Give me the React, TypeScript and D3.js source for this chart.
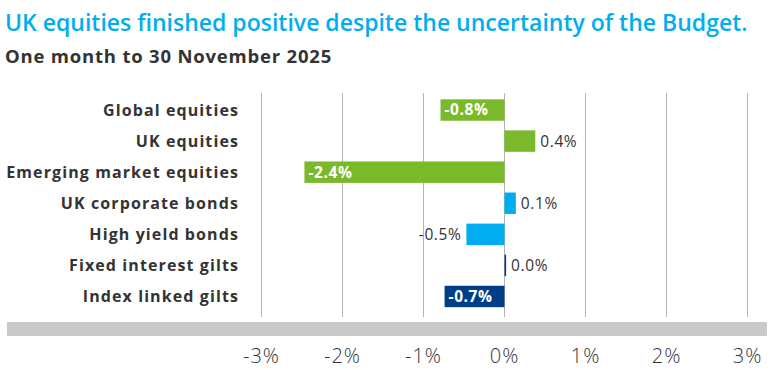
import React from "react";
import * as d3 from "d3";

const WIDTH = 774;
const HEIGHT = 370;

const categories = [
  "Global equities",
  "UK equities",
  "Emerging market equities",
  "UK corporate bonds",
  "High yield bonds",
  "Fixed interest gilts",
  "Index linked gilts",
];
const values = [-0.79, 0.38, -2.47, 0.14, -0.47, 0.02, -0.74];
const valueLabels = ["-0.8%", "0.4%", "-2.4%", "0.1%", "-0.5%", "0.0%", "-0.7%"];
const barColors = ["#7ab929", "#7ab929", "#7ab929", "#00aeef", "#00aeef", "#003f87", "#003f87"];
const labelInside = [true, false, true, false, false, false, true];
const ticks = [-3, -2, -1, 0, 1, 2, 3];

const FONT = "'Open Sans', sans-serif";

export default function App() {
  const x = d3.scaleLinear().domain([-3, 3]).range([261.5, 747.5]);
  const y = d3
    .scaleBand<string>()
    .domain(categories)
    .range([94.5, 312])
    .paddingInner(0.31)
    .paddingOuter(0.155);

  return (
    <svg
      width={WIDTH}
      height={HEIGHT}
      style={{ position: "absolute", left: 0, top: 0, background: "#fff" }}
      fontFamily={FONT}
    >
      <text x={5} y={31} fill="#00aeef" fontSize={23} fontWeight={600}>
        UK equities finished positive despite the uncertainty of the Budget.
      </text>
      <text x={5} y={63} fill="#333" fontSize={18.5} fontWeight={700} letterSpacing={0.8}>
        One month to 30 November 2025
      </text>

      {/* grid */}
      {ticks.map((t) => (
        <line
          key={t}
          x1={x(t)}
          x2={x(t)}
          y1={93}
          y2={317}
          stroke="#b3b3b3"
          strokeWidth={1}
        />
      ))}

      <rect x={7} y={322} width={760} height={14} fill="#c9c9cb" />

      {ticks.map((t) => (
        <text
          key={t}
          x={x(t)}
          y={363}
          textAnchor="middle"
          fill="#333"
          fontSize={20}
          fontWeight={300}
          letterSpacing={1}
        >
          {t}%
        </text>
      ))}

      {categories.map((c, i) => {
        const v = values[i];
        const y0 = y(c)!;
        const bh = y.bandwidth();
        const x0 = Math.min(x(0), x(v));
        const w = Math.max(Math.abs(x(v) - x(0)), 1.5);
        const cy = y0 + bh / 2;
        let lx: number;
        let anchor: "start" | "end";
        if (labelInside[i]) {
          lx = x(v) + 4;
          anchor = "start";
        } else if (v >= 0) {
          lx = x(0) + w + 5;
          anchor = "start";
        } else {
          lx = x(v) - 5;
          anchor = "end";
        }
        return (
          <g key={c}>
            <text
              x={239}
              y={cy}
              dy="0.35em"
              textAnchor="end"
              fill="#333"
              fontSize={16}
              fontWeight={700}
              letterSpacing={1.1}
            >
              {c}
            </text>
            <rect x={x0} y={y0} width={w} height={bh} fill={barColors[i]} />
            <text
              x={lx}
              y={cy}
              dy="0.35em"
              textAnchor={anchor}
              fill={labelInside[i] ? "#fff" : "#333"}
              fontSize={15.5}
              fontWeight={labelInside[i] ? 700 : 400}
              letterSpacing={0.6}
            >
              {valueLabels[i]}
            </text>
          </g>
        );
      })}
    </svg>
  );
}
